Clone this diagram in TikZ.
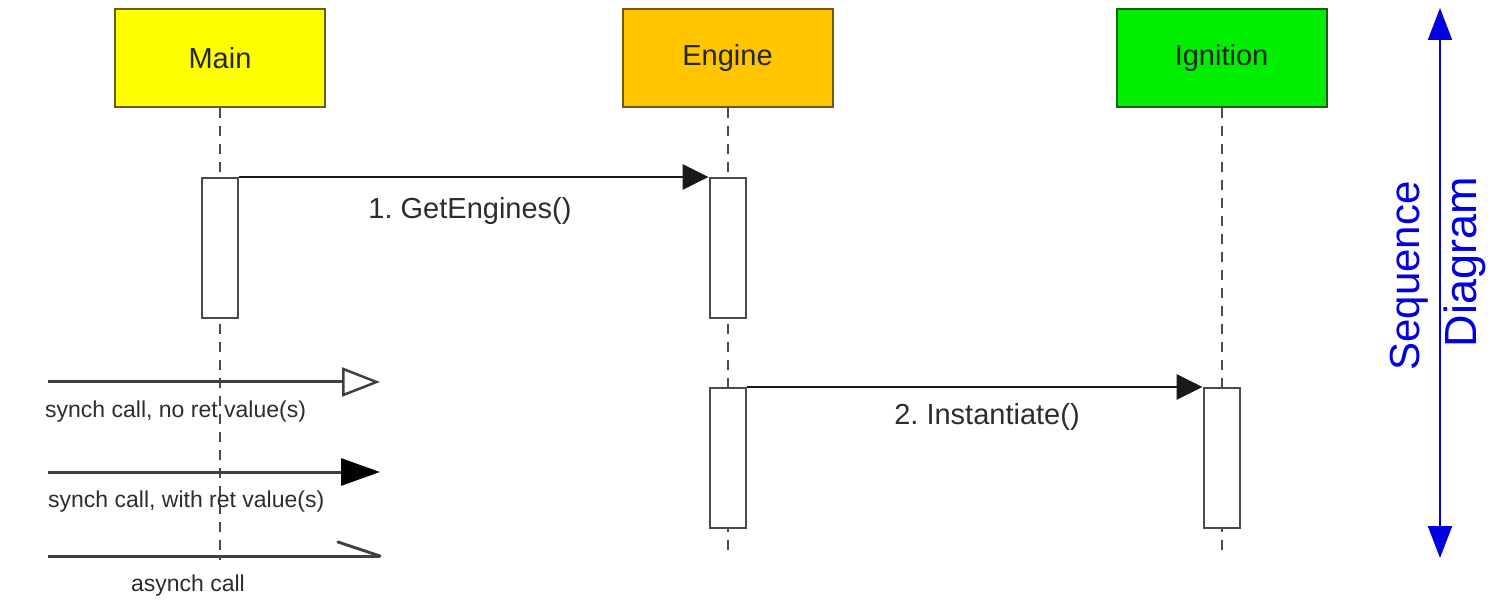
\documentclass[tikz,border=0pt]{standalone}
\usepackage{fontspec}
\setmainfont{Liberation Sans}
\usetikzlibrary{arrows.meta}
\definecolor{mainfill}{RGB}{255,255,0}
\definecolor{mainedge}{RGB}{105,95,20}
\definecolor{engfill}{RGB}{255,198,0}
\definecolor{engedge}{RGB}{115,85,20}
\definecolor{ignfill}{RGB}{0,238,0}
\definecolor{ignedge}{RGB}{25,95,25}
\definecolor{linegray}{RGB}{75,75,75}
\definecolor{txtgray}{RGB}{45,45,45}
\definecolor{axisblue}{RGB}{0,0,225}

\begin{document}
\frenchspacing
\begin{tikzpicture}[x=1pt,y=-1pt,
  actor/.style={draw, line width=2pt, minimum width=210pt, minimum height=98pt,
    inner sep=0pt, text=black!85, font=\fontsize{29}{33}\selectfont},
  activation/.style={draw=linegray, fill=white, line width=2pt,
    minimum width=36pt, minimum height=140pt, inner sep=0pt},
  lifeline/.style={draw=linegray, line width=2pt, dash pattern=on 10pt off 8pt},
  msg/.style={draw=black!90, line width=2.8pt, -{Triangle[length=26pt,width=25pt]}},
  msglabel/.style={text=txtgray, font=\fontsize{29}{33}\selectfont},
  legendline/.style={draw=black!75, line width=3pt},
  legendlabel/.style={text=txtgray, font=\fontsize{23}{27}\selectfont, inner sep=0pt},
  axislabel/.style={text=axisblue, rotate=90, inner sep=0pt}
]
\useasboundingbox (0,0) rectangle (1494,601);

% participants
\node[actor, fill=mainfill, draw=mainedge] (main) at (220,58) {Main};
\node[actor, fill=engfill, draw=engedge] (engine) at (727.5,58) {Engine};
\node[actor, fill=ignfill, draw=ignedge] (ign) at (1221.5,58) {Ignition};

% lifelines
\coordinate (mainend) at (220,560);
\coordinate (engend) at (727.5,557);
\coordinate (ignend) at (1221.5,557);
\draw[lifeline] (main.south) -- (mainend);
\draw[lifeline] (engine.south) -- (engend);
\draw[lifeline] (ign.south) -- (ignend);

% activation bars
\node[activation] (mainact) at (220,248) {};
\node[activation] (engact1) at (727.5,248) {};
\node[activation] (engact2) at (727.5,458) {};
\node[activation] (ignact) at (1221.5,458) {};

% messages
\draw[msg] (mainact.north east) -- (engact1.north west);
\node[msglabel] (m1) at (470,211) {1. GetEngines()};
\draw[msg] (engact2.north east) -- (ignact.north west);
\node[msglabel] (m2) at (987,417) {2. Instantiate()};

% legend
\coordinate (l1a) at (48,382);
\coordinate (l1b) at (380,382);
\draw[legendline, -{Triangle[open, length=38pt, width=29pt, line width=2.5pt]}] (l1a) -- (l1b);
\node[legendlabel, anchor=west] (t1) at (45,412) {synch call, no ret value(s)};

\coordinate (l2a) at (48,472);
\coordinate (l2b) at (380,472);
\draw[legendline, -{Triangle[length=39pt, width=27pt, fill=black, color=black]}] (l2a) -- (l2b);
\node[legendlabel, anchor=west] (t2) at (48,502) {synch call, with ret value(s)};

\coordinate (l3a) at (48,556);
\coordinate (l3b) at (380,556);
\coordinate (barb) at (338,542);
\draw[legendline] (l3a) -- (l3b);
\draw[legendline, line cap=round] (l3b) -- (barb);
\node[legendlabel] (t3) at (188,586) {asynch call};

% vertical axis
\coordinate (axtop) at (1440,8);
\coordinate (axbot) at (1440,558);
\draw[axisblue, line width=2pt, {Triangle[length=32pt,width=24pt]}-{Triangle[length=32pt,width=24pt]}] (axtop) -- (axbot);
\node[axislabel, font=\fontsize{42}{46}\selectfont] (seq) at (1409,276) {Sequence};
\node[axislabel, font=\fontsize{45}{49}\selectfont] (dia) at (1465,262) {Diagram};
\end{tikzpicture}
\end{document}
